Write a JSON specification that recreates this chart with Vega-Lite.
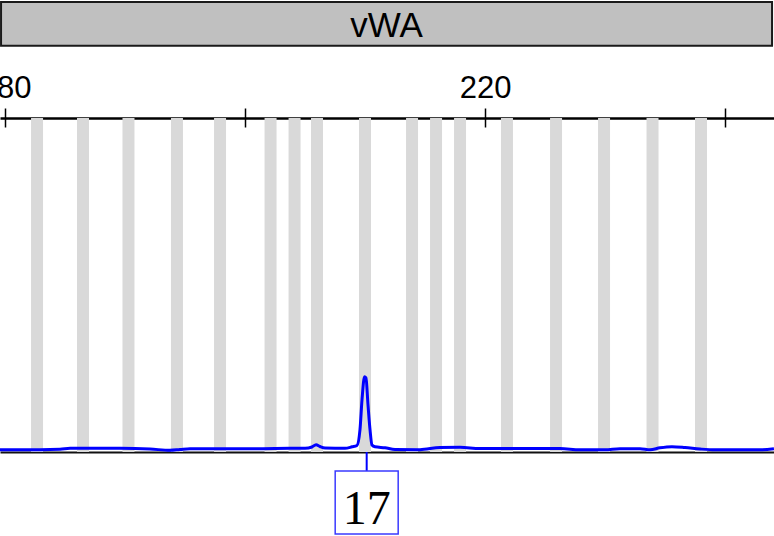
{
  "$schema": "https://vega.github.io/schema/vega-lite/v6.json",
  "width": 774,
  "height": 334,
  "autosize": {"type": "none"},
  "padding": {"top": 118, "bottom": 84, "left": 0, "right": 0},
  "background": "white",
  "config": {"view": {"stroke": null}},
  "datasets": {
    "bins": [
      {"lo": 182.17, "hi": 183.17},
      {"lo": 186.0, "hi": 187.0},
      {"lo": 189.79, "hi": 190.79},
      {"lo": 193.83, "hi": 194.83},
      {"lo": 197.42, "hi": 198.42},
      {"lo": 201.63, "hi": 202.63},
      {"lo": 203.63, "hi": 204.63},
      {"lo": 205.5, "hi": 206.5},
      {"lo": 209.5, "hi": 210.5},
      {"lo": 213.42, "hi": 214.42},
      {"lo": 215.42, "hi": 216.42},
      {"lo": 217.42, "hi": 218.42},
      {"lo": 221.33, "hi": 222.33},
      {"lo": 225.42, "hi": 226.42},
      {"lo": 229.42, "hi": 230.42},
      {"lo": 233.46, "hi": 234.46},
      {"lo": 237.5, "hi": 238.5}
    ],
    "trace": [
      {"size": 179.58, "rfu": 7},
      {"size": 181.25, "rfu": 6.5},
      {"size": 184.58, "rfu": 8},
      {"size": 185.42, "rfu": 11},
      {"size": 189.58, "rfu": 11},
      {"size": 192.08, "rfu": 9},
      {"size": 193.75, "rfu": 5},
      {"size": 194.58, "rfu": 7.5},
      {"size": 195.42, "rfu": 10},
      {"size": 201.25, "rfu": 10},
      {"size": 203.75, "rfu": 11},
      {"size": 205.0, "rfu": 11},
      {"size": 205.58, "rfu": 15},
      {"size": 205.92, "rfu": 22},
      {"size": 206.25, "rfu": 16.5},
      {"size": 206.67, "rfu": 12},
      {"size": 208.33, "rfu": 11},
      {"size": 208.92, "rfu": 15.5},
      {"size": 209.33, "rfu": 19.5},
      {"size": 209.58, "rfu": 66},
      {"size": 209.75, "rfu": 156},
      {"size": 209.96, "rfu": 225},
      {"size": 210.08, "rfu": 222},
      {"size": 210.25, "rfu": 141},
      {"size": 210.42, "rfu": 66},
      {"size": 210.58, "rfu": 21},
      {"size": 210.83, "rfu": 15.5},
      {"size": 211.67, "rfu": 12.5},
      {"size": 212.5, "rfu": 7.5},
      {"size": 214.58, "rfu": 7},
      {"size": 216.25, "rfu": 13.5},
      {"size": 217.92, "rfu": 14},
      {"size": 219.58, "rfu": 10.5},
      {"size": 226.25, "rfu": 10.5},
      {"size": 227.92, "rfu": 6.5},
      {"size": 230.0, "rfu": 6.5},
      {"size": 231.25, "rfu": 10},
      {"size": 232.92, "rfu": 10},
      {"size": 233.75, "rfu": 6.5},
      {"size": 234.58, "rfu": 12.5},
      {"size": 235.58, "rfu": 16},
      {"size": 236.67, "rfu": 13.5},
      {"size": 237.92, "rfu": 9},
      {"size": 239.17, "rfu": 6.5},
      {"size": 242.92, "rfu": 6.5},
      {"size": 244.08, "rfu": 9.5}
    ],
    "marker": [{"marker": "vWA", "start": 179.67, "end": 243.92, "mid": 211.8}],
    "alleles": [{"allele": "17", "size": 210.14}]
  },
  "resolve": {"axis": {"x": "independent"}},
  "layer": [
    {
      "data": {"name": "bins"},
      "mark": {"type": "rect", "color": "#d9d9d9"},
      "encoding": {
        "x": {
          "field": "lo", "type": "quantitative",
          "scale": {"domain": [179.583, 244.083], "nice": false, "zero": false},
          "axis": {
            "orient": "top", "title": null, "values": [180, 200, 220, 240],
            "offset": -9, "tickSize": 19, "tickWidth": 1.5, "tickColor": "#000",
            "domain": false, "grid": false,
            "labelFont": "Liberation Sans", "labelFontSize": 31, "labelColor": "#000",
            "labelBaseline": "alphabetic", "labelPadding": 11,
            "labelFlush": false, "labelOverlap": false,
            "labelExpr": "datum.value % 40 == 20 ? datum.label : ''"
          }
        },
        "x2": {"field": "hi"}
      }
    },
    {
      "data": {"name": "trace"},
      "mark": {"type": "line", "color": "#0000ff", "strokeWidth": 3, "interpolate": "monotone"},
      "encoding": {
        "x": {
          "field": "size", "type": "quantitative",
          "axis": {
            "orient": "bottom", "title": null, "ticks": false, "labels": false, "grid": false,
            "domain": true, "domainColor": "#111", "domainWidth": 2
          }
        },
        "y": {
          "field": "rfu", "type": "quantitative",
          "scale": {"domain": [0, 1000], "nice": false},
          "axis": null
        }
      }
    },
    {
      "data": {"name": "marker"},
      "mark": {"type": "rect", "fill": "#c0c0c0", "stroke": "#1a1a1a", "strokeWidth": 2},
      "encoding": {
        "x": {
          "field": "start", "type": "quantitative",
          "axis": {
            "orient": "top", "title": null, "ticks": false, "labels": false, "grid": false,
            "domain": true, "domainColor": "#000", "domainWidth": 2.5
          }
        },
        "x2": {"field": "end"},
        "y": {"datum": 1347},
        "y2": {"datum": 1216}
      }
    },
    {
      "data": {"name": "marker"},
      "mark": {"type": "text", "font": "Liberation Sans", "fontSize": 35, "color": "#000", "baseline": "alphabetic", "align": "center"},
      "encoding": {
        "x": {"field": "mid", "type": "quantitative", "axis": null},
        "y": {"datum": 1242},
        "text": {"field": "marker"}
      }
    },
    {
      "data": {"name": "alleles"},
      "mark": {"type": "rule", "color": "#0000ff", "strokeWidth": 2},
      "encoding": {
        "x": {"field": "size", "type": "quantitative", "axis": null},
        "y": {"datum": 0},
        "y2": {"datum": -60}
      }
    },
    {
      "data": {"name": "alleles"},
      "mark": {"type": "point", "shape": "square", "size": 3969, "filled": true, "fill": "#ffffff", "stroke": "#3a3aff", "strokeWidth": 1.5, "opacity": 1},
      "encoding": {
        "x": {"field": "size", "type": "quantitative", "axis": null},
        "y": {"datum": -151}
      }
    },
    {
      "data": {"name": "alleles"},
      "mark": {"type": "text", "font": "Liberation Serif", "fontSize": 48, "color": "#000", "baseline": "alphabetic", "align": "center"},
      "encoding": {
        "x": {"field": "size", "type": "quantitative", "axis": null},
        "y": {"datum": -215.6},
        "text": {"field": "allele"}
      }
    }
  ]
}
